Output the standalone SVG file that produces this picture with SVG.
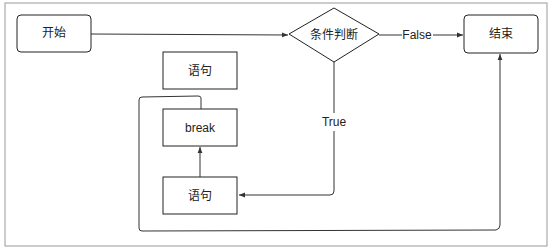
<svg xmlns="http://www.w3.org/2000/svg" width="558" height="252" viewBox="0 0 558 252">
<style>
.box{fill:#fff;stroke:#222;stroke-width:1}
.t{font-family:"Liberation Sans","Noto Sans CJK SC",sans-serif;font-size:12px;fill:#222;text-anchor:middle;dominant-baseline:central}
.c{fill:none;stroke:#333;stroke-width:1}
</style>
<defs>
<marker id="a" viewBox="0 0 10 10" refX="10" refY="5" markerWidth="6" markerHeight="6" orient="auto">
<path d="M0,1 L10,5 L0,9 z" fill="#333"/>
</marker>
</defs>
<rect x="0" y="0" width="558" height="252" fill="#fff"/>
<rect x="5" y="3" width="542" height="243" fill="none" stroke="#999" stroke-width="1"/>
<g id="connectors">
<path class="c" d="M91,34 L288,35" marker-end="url(#a)"/>
<path class="c" d="M379,35 L402,35 M433,35 L463,35" marker-end="url(#a)"/>
<path class="c" d="M334,62 L334,113 M334,131 L334,191 Q334,195 330,195 L239,195" marker-end="url(#a)"/>
<path class="c" d="M200,177 L200,147" marker-end="url(#a)"/>
<path class="c" d="M201,109 L201,98 Q201,96 198,96 L142,97 Q139,97 139,100 L139,228 Q139,231 142,231 L496,230 Q500,229 500,225 L500,54" marker-end="url(#a)"/>
</g>
<g id="start"><rect class="box" x="17" y="15" width="74" height="37" rx="4"/><text class="t" x="54" y="33">开始</text></g>
<g id="cond"><polygon class="box" points="289,34 334,8 379,34 334,62"/><text class="t" x="334" y="35">条件判断</text></g>
<g id="end"><rect class="box" x="464" y="15" width="74" height="38" rx="4"/><text class="t" x="501" y="34">结束</text></g>
<g id="stmt1"><rect class="box" x="163" y="52" width="74" height="37"/><text class="t" x="200" y="71">语句</text></g>
<g id="brk"><rect class="box" x="163" y="109" width="74" height="37"/><text class="t" x="200" y="128">break</text></g>
<g id="stmt2"><rect class="box" x="163" y="177" width="74" height="37"/><text class="t" x="200" y="196">语句</text></g>
<text class="t" x="417" y="35">False</text>
<text class="t" x="334" y="122">True</text>
</svg>
